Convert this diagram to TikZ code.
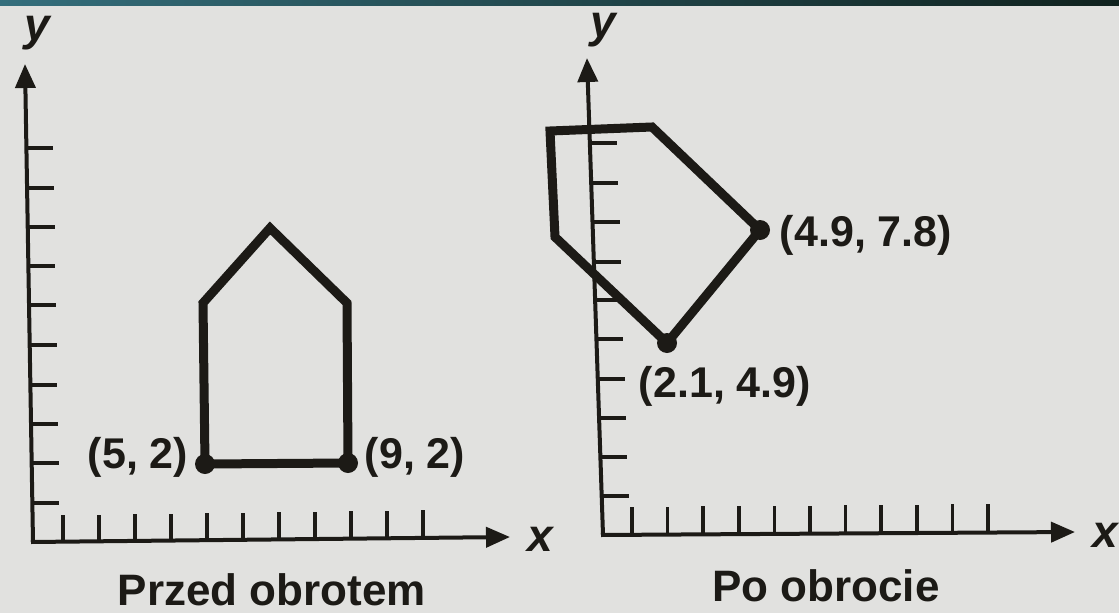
\documentclass[tikz,border=0pt]{standalone}
\usepackage{fontspec}
\setmainfont{Liberation Sans}
\usetikzlibrary{arrows.meta}
\definecolor{bg}{RGB}{225,225,223}
\definecolor{ink}{RGB}{28,26,22}
\definecolor{bandL}{RGB}{52,110,124}
\definecolor{bandR}{RGB}{16,34,30}
\tikzset{
  axisline/.style={ink, line width=4pt, -{Triangle[length=24pt,width=20pt]}},
  tickline/.style={ink, line width=3.6pt},
  shapeline/.style={ink, line width=9pt, line join=miter},
  ptdot/.style={circle, fill=ink, inner sep=0pt, minimum size=20pt},
  coordlabel/.style={ink, font=\fontsize{43}{50}\bfseries\selectfont, inner sep=0pt},
  captionlabel/.style={ink, font=\fontsize{44}{52}\bfseries\selectfont, inner sep=0pt},
  axislabel/.style={ink, font=\fontsize{46}{54}\bfseries\itshape\selectfont, inner sep=0pt}
}
\begin{document}
\begin{tikzpicture}[x=1pt,y=-1pt]
\useasboundingbox (0,0) rectangle (1119,613);
\fill[bg] (0,0) rectangle (1119,613);
\shade[left color=bandL, right color=bandR] (0,0) rectangle (1119,5);

% ---------- left plot ----------
\coordinate (LO) at (33,542);
\coordinate (LYt) at (25,64);
\coordinate (LXt) at (510,537);
\draw[axisline] (LO) -- (LYt);
\draw[axisline] ([xshift=-2pt]LO) -- (LXt);
\foreach \yy/\xx in {148/26.4,188/27.1,227/27.7,266/28.4,305/29.0,345/29.7,385/30.4,424/31.0,463/31.7,503/32.3}
  \draw[tickline] (\xx,\yy) -- (\xx+27,\yy);
\foreach \k in {0,...,10}
  \draw[tickline] ({63+36*\k},{542-0.5*\k}) -- ({63+36*\k},{515-0.5*\k});
\node[axislabel, anchor=base] (ly) at (37,40) {y};
\node[axislabel, anchor=base] (lx) at (540,551) {x};

\coordinate (A1) at (205,464);
\coordinate (A2) at (348,463);
\coordinate (A3) at (347,303);
\coordinate (A4) at (270,228);
\coordinate (A5) at (203,303);
\draw[shapeline] (A1) -- (A2) -- (A3) -- (A4) -- (A5) -- cycle;
\node[ptdot] (d1) at (A1) {};
\node[ptdot] (d2) at (A2) {};
\node[coordlabel, anchor=base] (l52) at (138,468) {(5, 2)};
\node[coordlabel, anchor=base] (l92) at (415,468) {(9, 2)};
\node[captionlabel, anchor=base] (cap1) at (272,605) {Przed obrotem};

% ---------- right plot ----------
\coordinate (RO) at (603,535);
\coordinate (RYt) at (587,58);
\coordinate (RXt) at (1075,532);
\draw[axisline] (RO) -- (RYt);
\draw[axisline] ([xshift=-2pt]RO) -- (RXt);
\foreach \yy/\xx in {143/589.9,183/591.2,222/592.5,262/593.9,300/595.1,339/596.4,379/597.8,418/599.1,457/600.4,496/601.7}
  \draw[tickline] (\xx,\yy) -- (\xx+27,\yy);
\foreach \k in {0,...,10}
  \draw[tickline] ({632+35.6*\k},{535-0.3*\k}) -- ({632+35.6*\k},{507-0.3*\k});
\node[axislabel, anchor=base] (ry) at (603,37) {y};
\node[axislabel, anchor=base] (rx) at (1105,547) {x};

\coordinate (B1) at (550,131);
\coordinate (B2) at (652,127);
\coordinate (B3) at (760,230);
\coordinate (B4) at (667,343);
\coordinate (B5) at (555,237);
\draw[shapeline] (B1) -- (B2) -- (B3) -- (B4) -- (B5) -- cycle;
\node[ptdot] (d3) at (B3) {};
\node[ptdot] (d4) at (B4) {};
\node[coordlabel, anchor=base] (l49) at (866,246) {(4.9, 7.8)};
\node[coordlabel, anchor=base] (l21) at (725,397) {(2.1, 4.9)};
\node[captionlabel, anchor=base] (cap2) at (826,601) {Po obrocie};
\end{tikzpicture}
\end{document}
